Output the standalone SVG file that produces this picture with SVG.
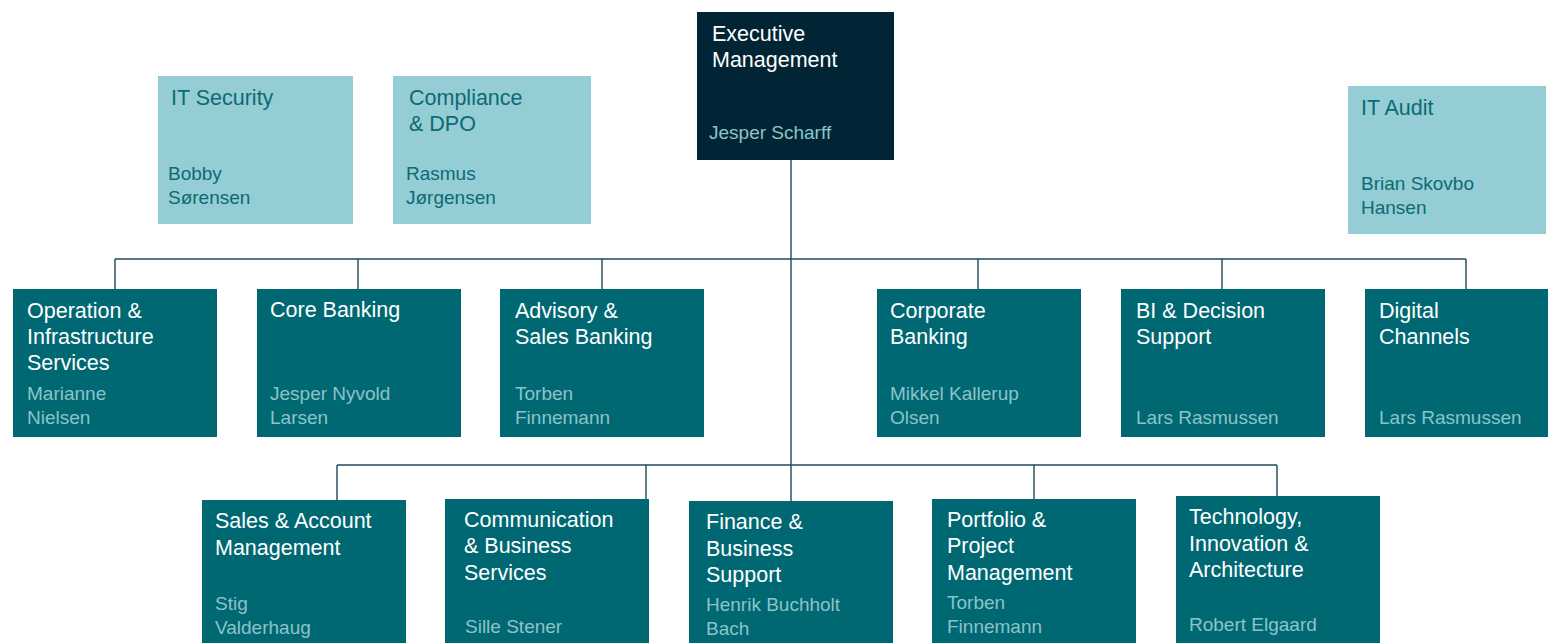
<svg xmlns="http://www.w3.org/2000/svg" width="1548" height="643" viewBox="0 0 1548 643">
<style>
text{font-family:"Liberation Sans",Arial,sans-serif}
.exec{fill:#022535}
.unit{fill:#006873}
.staff{fill:#94cdd4}
.t{font-size:21.5px;fill:#ffffff}
.n{font-size:19px;fill:#8cc3c8}
.st{font-size:21.5px;fill:#0d6a74}
.sn{font-size:19px;fill:#0d6a74}
.lines path{stroke:#21485a;stroke-width:1.4;fill:none}
</style>
<rect width="1548" height="643" fill="#ffffff"/>
<g class="lines" id="connectors">
<path d="M791 160V501"/>
<path d="M115 259H1466"/>
<path d="M115 259V289M358 259V289M602 259V289M978 259V289M1222 259V289M1466 259V289"/>
<path d="M337 465H1277"/>
<path d="M337 465V500M646 465V499M1034 465V499M1277 465V496"/>
</g>
<g id="executive">
<rect class="exec" x="697" y="12" width="197" height="148"/>
<text class="t" x="712" y="41">Executive</text>
<text class="t" x="712" y="67">Management</text>
<text class="n" x="709" y="139">Jesper Scharff</text>
</g>
<g id="it-security">
<rect class="staff" x="158" y="76" width="195" height="148"/>
<text class="st" x="171" y="105">IT Security</text>
<text class="sn" x="168" y="180">Bobby</text>
<text class="sn" x="168" y="204">Sørensen</text>
</g>
<g id="compliance">
<rect class="staff" x="393" y="76" width="198" height="148"/>
<text class="st" x="409" y="105">Compliance</text>
<text class="st" x="409" y="131">&amp; DPO</text>
<text class="sn" x="406" y="180">Rasmus</text>
<text class="sn" x="406" y="204">Jørgensen</text>
</g>
<g id="it-audit">
<rect class="staff" x="1348" y="86" width="198" height="148"/>
<text class="st" x="1361" y="115">IT Audit</text>
<text class="sn" x="1361" y="190">Brian Skovbo</text>
<text class="sn" x="1361" y="214">Hansen</text>
</g>
<g id="operation">
<rect class="unit" x="13" y="289" width="204" height="148"/>
<text class="t" x="27" y="318">Operation &amp;</text>
<text class="t" x="27" y="344">Infrastructure</text>
<text class="t" x="27" y="370">Services</text>
<text class="n" x="27" y="400">Marianne</text>
<text class="n" x="27" y="424">Nielsen</text>
</g>
<g id="core-banking">
<rect class="unit" x="257" y="289" width="204" height="148"/>
<text class="t" x="270" y="317">Core Banking</text>
<text class="n" x="270" y="400">Jesper Nyvold</text>
<text class="n" x="270" y="424">Larsen</text>
</g>
<g id="advisory">
<rect class="unit" x="500" y="289" width="204" height="148"/>
<text class="t" x="515" y="318">Advisory &amp;</text>
<text class="t" x="515" y="344">Sales Banking</text>
<text class="n" x="515" y="400">Torben</text>
<text class="n" x="515" y="424">Finnemann</text>
</g>
<g id="corporate-banking">
<rect class="unit" x="877" y="289" width="204" height="148"/>
<text class="t" x="890" y="318">Corporate</text>
<text class="t" x="890" y="344">Banking</text>
<text class="n" x="890" y="400">Mikkel Kallerup</text>
<text class="n" x="890" y="424">Olsen</text>
</g>
<g id="bi">
<rect class="unit" x="1121" y="289" width="204" height="148"/>
<text class="t" x="1136" y="318">BI &amp; Decision</text>
<text class="t" x="1136" y="344">Support</text>
<text class="n" x="1136" y="424">Lars Rasmussen</text>
</g>
<g id="digital">
<rect class="unit" x="1365" y="289" width="204" height="148"/>
<text class="t" x="1379" y="318">Digital</text>
<text class="t" x="1379" y="344">Channels</text>
<text class="n" x="1379" y="424">Lars Rasmussen</text>
</g>
<g id="sales">
<rect class="unit" x="202" y="500" width="204" height="148"/>
<text class="t" x="215" y="528">Sales &amp; Account</text>
<text class="t" x="215" y="555">Management</text>
<text class="n" x="215" y="610">Stig</text>
<text class="n" x="215" y="634">Valderhaug</text>
</g>
<g id="communication">
<rect class="unit" x="445" y="499" width="204" height="148"/>
<text class="t" x="464" y="527">Communication</text>
<text class="t" x="464" y="553">&amp; Business</text>
<text class="t" x="464" y="580">Services</text>
<text class="n" x="465" y="633">Sille Stener</text>
</g>
<g id="finance">
<rect class="unit" x="689" y="501" width="204" height="148"/>
<text class="t" x="706" y="529">Finance &amp;</text>
<text class="t" x="706" y="556">Business</text>
<text class="t" x="706" y="582">Support</text>
<text class="n" x="706" y="611">Henrik Buchholt</text>
<text class="n" x="706" y="635">Bach</text>
</g>
<g id="portfolio">
<rect class="unit" x="932" y="499" width="204" height="148"/>
<text class="t" x="947" y="527">Portfolio &amp;</text>
<text class="t" x="947" y="553">Project</text>
<text class="t" x="947" y="580">Management</text>
<text class="n" x="947" y="609">Torben</text>
<text class="n" x="947" y="633">Finnemann</text>
</g>
<g id="technology">
<rect class="unit" x="1176" y="496" width="204" height="148"/>
<text class="t" x="1189" y="524">Technology,</text>
<text class="t" x="1189" y="551">Innovation &amp;</text>
<text class="t" x="1189" y="577">Architecture</text>
<text class="n" x="1189" y="631">Robert Elgaard</text>
</g>
</svg>
